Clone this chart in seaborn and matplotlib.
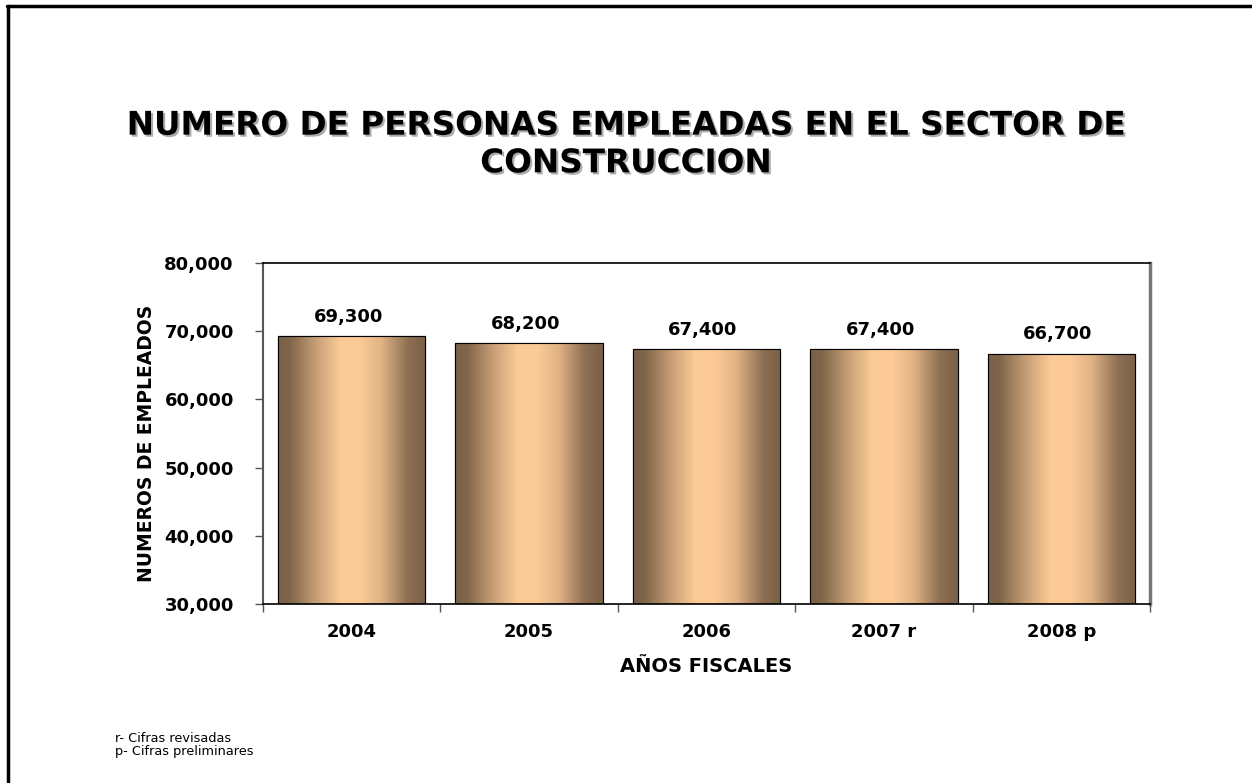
import numpy as np
import pandas as pd
import matplotlib
matplotlib.use("Agg")
import matplotlib.pyplot as plt
import matplotlib.patheffects as pe
from matplotlib.colors import LinearSegmentedColormap
from matplotlib.ticker import FuncFormatter, FixedLocator
import seaborn as sns

# data
years = ["2004", "2005", "2006", "2007 r", "2008 p"]
employees = [69300, 68200, 67400, 67400, 66700]
y_ticks = [30000, 40000, 50000, 60000, 70000, 80000]

title = "NUMERO DE PERSONAS EMPLEADAS EN EL SECTOR DE\nCONSTRUCCION"
notes = "r- Cifras revisadas\np- Cifras preliminares"

df = pd.DataFrame({"year": years, "employees": employees})

sns.set_theme(style="white")
plt.rcParams["font.family"] = ["DejaVu Sans"]
plt.rcParams["text.color"] = "black"
plt.rcParams["axes.labelcolor"] = "black"

fig = plt.figure(figsize=(12.52, 7.83), dpi=100)
ax = fig.add_axes([263 / 1252, 1 - 604 / 783, 887 / 1252, 341 / 783])

sns.barplot(data=df, x="year", y="employees", ax=ax, width=0.83,
            color="#fccb96", edgecolor="black", linewidth=0.8, zorder=2)

# metallic gradient across each bar
grad_cmap = LinearSegmentedColormap.from_list("bronze", [
    (0.0, "#7a6048"), (0.08, "#80654a"), (0.25, "#c49c74"),
    (0.42, "#fbca96"), (0.55, "#fdcb97"), (0.7, "#e0b385"),
    (0.88, "#8d6f53"), (1.0, "#7a6048")])
grad = np.linspace(0, 1, 256).reshape(1, -1)
for bar in ax.patches:
    x0, w = bar.get_x(), bar.get_width()
    y0, h = bar.get_y(), bar.get_height()
    img = ax.imshow(grad, cmap=grad_cmap, aspect="auto", zorder=2.5,
                    extent=[x0, x0 + w, 30000, y0 + h], interpolation="bicubic")
    img.set_clip_path(bar)
    ax.add_patch(plt.Rectangle((x0, 30000), w, y0 + h - 30000, fill=False,
                               edgecolor="black", linewidth=0.8, zorder=3))

ax.set_ylim(30000, 80000)
ax.set_xlim(-0.5, len(years) - 0.5)
ax.yaxis.set_major_locator(FixedLocator(y_ticks))
ax.yaxis.set_major_formatter(FuncFormatter(lambda v, p: f"{int(v):,}"))

for i, v in enumerate(employees):
    ax.text(i - 0.02, v + 1500, f"{v:,}", ha="center", va="bottom",
            fontsize=13, fontweight="bold", color="black")

ax.set_xlabel("AÑOS FISCALES", fontsize=14, fontweight="bold", labelpad=11)
ax.set_ylabel("NUMEROS DE EMPLEADOS", fontsize=13.5, fontweight="bold")
ax.yaxis.set_label_coords(-0.121, 0.47)

ax.tick_params(axis="y", which="major", direction="out", length=6, width=1,
               color="#555555", labelcolor="black", labelsize=13, pad=15, left=True)
ax.tick_params(axis="x", which="major", length=0, labelsize=13,
               labelcolor="black", pad=14)
ax.set_xticks(np.arange(-0.5, len(years)), minor=True)
ax.tick_params(axis="x", which="minor", direction="out", length=6, width=1,
               color="#555555", bottom=True)
for lab in ax.get_xticklabels() + ax.get_yticklabels():
    lab.set_fontweight("bold")

for side in ["top", "bottom"]:
    ax.spines[side].set_color("black")
    ax.spines[side].set_linewidth(1.2)
ax.spines["left"].set_color("#555555")
ax.spines["left"].set_linewidth(1.5)
ax.spines["right"].set_color("#777777")
ax.spines["right"].set_linewidth(2.5)

fig.text(0.5, 1 - 144 / 783, title, ha="center", va="center", fontsize=23.5,
         fontweight="bold", linespacing=1.18, color="black",
         path_effects=[pe.withSimplePatchShadow(offset=(1.5, -1.5),
                                                shadow_rgbFace="#888888", alpha=0.7)])

fig.text(115 / 1252, 1 - 745 / 783, notes, ha="left", va="center", fontsize=9.3,
         linespacing=1.05, color="black")

# page frame (only top and left edges visible)
fig.add_artist(plt.Line2D([7 / 1252, 1], [1 - 6 / 783, 1 - 6 / 783],
                          color="black", linewidth=2.5, transform=fig.transFigure))
fig.add_artist(plt.Line2D([8 / 1252, 8 / 1252], [0, 1 - 6 / 783],
                          color="black", linewidth=2.5, transform=fig.transFigure))

fig.savefig("out.png", dpi=100, facecolor="white")
